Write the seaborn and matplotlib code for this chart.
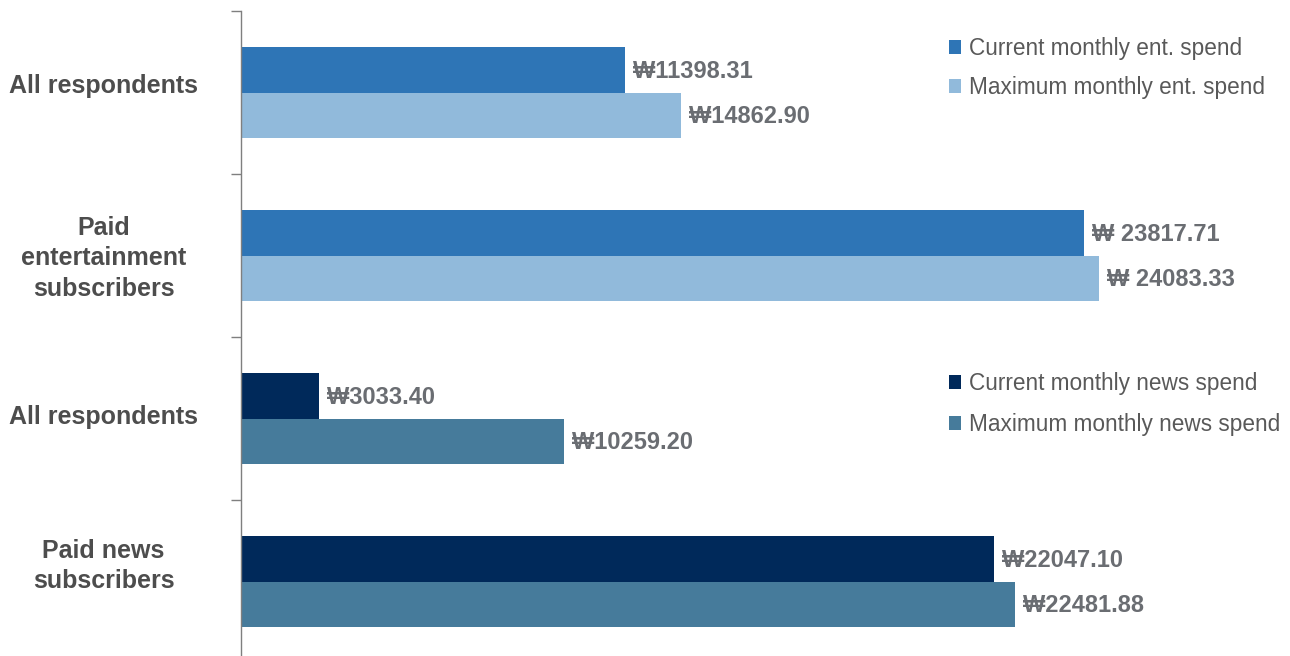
import pandas as pd
import matplotlib
matplotlib.use("Agg")
import matplotlib.pyplot as plt
import seaborn as sns
from matplotlib.patches import Patch

# Data
group_ids = ["ent_all", "ent_paid", "news_all", "news_paid"]
group_names = ["All respondents", "Paid\nentertainment\nsubscribers",
               "All respondents", "Paid news\nsubscribers"]
# bar lengths as drawn in the reference (won per month)
current_spend = [10779, 23663, 2189, 21136]
maximum_spend = [12351, 24083, 9066, 21726]
# value labels as printed in the reference
current_labels = ["₩11398.31", "₩ 23817.71", "₩3033.40", "₩22047.10"]
maximum_labels = ["₩14862.90", "₩ 24083.33", "₩10259.20", "₩22481.88"]
series = ["Current", "Maximum"]
legend_ent = ["Current monthly ent. spend", "Maximum monthly ent. spend"]
legend_news = ["Current monthly news spend", "Maximum monthly news spend"]
ent_colors = ["#2E75B6", "#91BADB"]
news_colors = ["#00295A", "#467B9B"]

df = pd.DataFrame({
    "group": group_ids * 2,
    "spend": current_spend + maximum_spend,
    "series": [series[0]] * 4 + [series[1]] * 4,
    "label": current_labels + maximum_labels,
})

sns.set_style("white")
plt.rcParams["font.family"] = ["Liberation Sans", "DejaVu Sans"]

fig = plt.figure(figsize=(12.9, 6.56), dpi=100)
ax = fig.add_axes([241 / 1290, -7 / 656, 1049 / 1290, 652 / 656])

sns.barplot(data=df, x="spend", y="group", hue="series", order=group_ids,
            hue_order=series, orient="h", width=0.56, palette=ent_colors,
            legend=False, ax=ax, saturation=1)

# colour by block (entertainment / news) and add value labels
for i, container in enumerate(ax.containers):
    for bar in container:
        yc = bar.get_y() + bar.get_height() / 2
        g = int(round(yc))
        cols = ent_colors if g < 2 else news_colors
        bar.set_facecolor(cols[i])
        bar.set_edgecolor("none")
        txt = df[(df["group"] == group_ids[g]) & (df["series"] == series[i])]["label"].iloc[0]
        ax.annotate(txt, (bar.get_width(), yc), xytext=(6, -1), textcoords="offset points",
                    va="center", ha="left", fontsize=17, fontweight="bold", color="#6A6D72")

ax.set_xlim(0, 29445)
ax.set_ylim(3.5, -0.5)
ax.set_xlabel("")
ax.set_ylabel("")
ax.set_xticks([])
ax.set_yticks([-0.5, 0.5, 1.5, 2.5, 3.5])
ax.set_yticklabels([])
ax.tick_params(axis="y", direction="out", length=7, width=1, color="#7F7F7F", left=True)
for s in ["top", "right", "bottom"]:
    ax.spines[s].set_visible(False)
ax.spines["left"].set_color("#7F7F7F")
ax.spines["left"].set_linewidth(1)

# category names sit slightly off the bar centres in the original
name_shift = [5, -2, 1, 11]
for g, name in enumerate(group_names):
    ax.annotate(name, (-0.131, g), xycoords=ax.get_yaxis_transform(),
                xytext=(0, name_shift[g]), textcoords="offset points",
                ha="center", va="center", multialignment="center", fontsize=18,
                fontweight="bold", color="#4D4D4D", linespacing=1.33)

h1 = [Patch(facecolor=c, edgecolor="none") for c in ent_colors]
leg1 = ax.legend(h1, legend_ent, loc="upper left", bbox_to_anchor=(949 / 1290, 1 - 37 / 656),
                 bbox_transform=fig.transFigure, frameon=False, fontsize=16.3,
                 handlelength=0.55, handleheight=0.55, handletextpad=0.35, labelspacing=0.7,
                 labelcolor="#595959", borderpad=0, borderaxespad=0)
ax.add_artist(leg1)
h2 = [Patch(facecolor=c, edgecolor="none") for c in news_colors]
ax.legend(h2, legend_news, loc="upper left", bbox_to_anchor=(949 / 1290, 1 - 372 / 656),
          bbox_transform=fig.transFigure, frameon=False, fontsize=16.3,
          handlelength=0.55, handleheight=0.55, handletextpad=0.35, labelspacing=0.8,
          labelcolor="#595959", borderpad=0, borderaxespad=0)

fig.savefig("out.png", dpi=100)
